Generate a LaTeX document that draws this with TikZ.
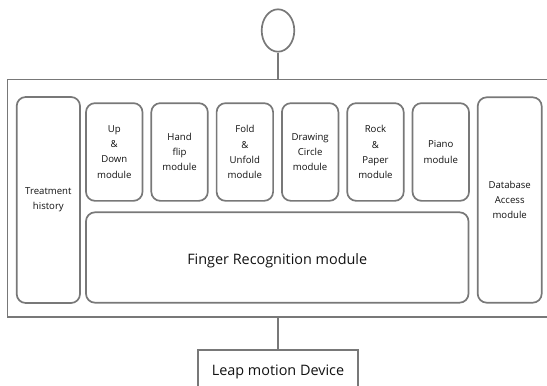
\documentclass[tikz,border=0pt]{standalone}
\usepackage{fontspec}
\setmainfont{Open Sans}
\usetikzlibrary{shapes.geometric}
\definecolor{stroke}{HTML}{787878}
\definecolor{txt}{HTML}{111111}
\begin{document}
\begin{tikzpicture}[x=1pt,y=-1pt,
  line width=1.7pt,
  box/.style={draw=stroke, rounded corners=9pt, inner sep=0pt, text=txt, align=center},
  small/.style={font={\fontsize{9.6}{15.2}\selectfont}},
  big/.style={font={\fontsize{14.4}{18}\selectfont}},
  modbox/.style={box, small, minimum width=56.5pt, minimum height=97.7pt},
  conn/.style={draw=stroke, line width=1.9pt}
]
\useasboundingbox (0,0) rectangle (547,386);
% outer frame (right side runs off the picture)
\node[draw=stroke, line width=1.9pt, inner sep=0pt, minimum width=548.5pt, minimum height=237.2pt] (outer) at (281.75,198.1) {};
% interface circle
\node[ellipse, draw=stroke, inner sep=0pt, minimum width=32.6pt, minimum height=42.4pt] (iface) at (278,30.5) {};
\draw[conn] (iface.south) -- (iface.south |- outer.north);
% side boxes
\node[box, small, minimum width=63.3pt, minimum height=206pt] (treat) at (48.35,200) {Treatment\\history};
\node[box, small, minimum width=64pt, minimum height=205.4pt] (db) at (509.7,200) {Database\\Access\\module};
% modules
\node[modbox] (m1) at (114.25,152) {Up\\\&\\Down\\module};
\node[modbox] (m2) at (179.55,152) {Hand\\flip\\module};
\node[modbox] (m3) at (244.85,152) {Fold\\\&\\Unfold\\module};
\node[modbox] (m4) at (310.15,152) {Drawing\\Circle\\module};
\node[modbox] (m5) at (375.45,152) {Rock\\\&\\Paper\\module};
\node[modbox] (m6) at (440.75,152) {Piano\\module};
% finger recognition
\node[box, big, minimum width=382.5pt, minimum height=90.4pt, text depth=0pt] (finger) at (277.25,257.5) {\raisebox{-3pt}{Finger Recognition module}};
% leap motion device
\node[draw=stroke, line width=1.9pt, inner sep=0pt, big, text=txt, minimum width=160.4pt, minimum height=44pt] (leap) at (278,372) {Leap motion Device};
\draw[conn] (leap.north) -- (leap.north |- outer.south);
\end{tikzpicture}
\end{document}
